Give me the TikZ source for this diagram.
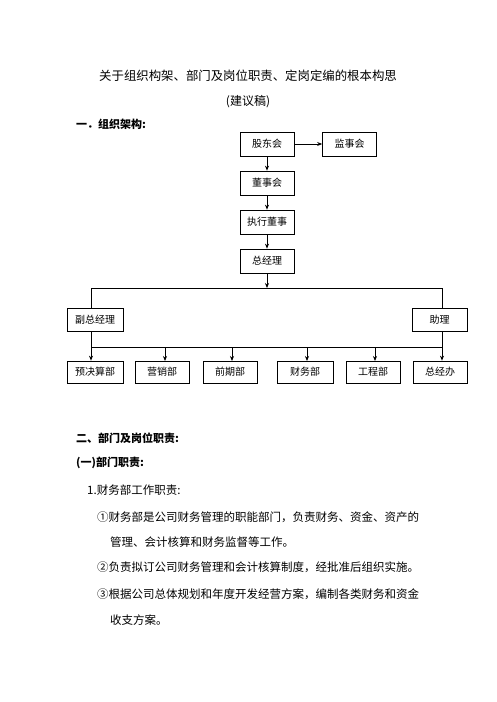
\documentclass[tikz,border=0pt]{standalone}
\usepackage{fontspec}
\setmainfont{Noto Sans CJK SC}
\usetikzlibrary{positioning,arrows.meta}

\tikzset{
  orgbox/.style={draw, line width=0.7pt, minimum width=54pt, minimum height=24pt, inner sep=0pt, font=\fontsize{10}{12}\selectfont},
  arr/.style={line width=0.8pt, -{Stealth[length=5pt,width=4pt]}},
  bus/.style={line width=0.7pt},
  body/.style={anchor=west, inner sep=0pt, font=\fontsize{11.5}{14}\selectfont},
  head/.style={anchor=west, inner sep=0pt, font=\fontsize{11}{13}\selectfont\bfseries}
}

\begin{document}
\begin{tikzpicture}[x=1pt,y=-1pt]
\useasboundingbox[fill=white] (0,0) rectangle (496,702);

% title
\node[inner sep=0pt, font=\fontsize{12.4}{15}\selectfont] (title) at (248,76) {关于组织构架、部门及岗位职责、定岗定编的根本构思};
\node[inner sep=0pt, font=\fontsize{12}{15}\selectfont] (draft) at (248,102) {(建议稿)};
\node[head] (h1) at (76,124) {一．组织架构:};

% top chain
\node[orgbox] (gdh) at (267,144) {股东会};
\node[orgbox] (jsh) at (349.5,144) {监事会};
\node[orgbox] (dsh) at (267,183) {董事会};
\node[orgbox] (zxds) at (267,222) {执行董事};
\node[orgbox] (zjl) at (267,261) {总经理};

\draw[arr] (gdh) -- (jsh);
\draw[arr] (gdh) -- (dsh);
\draw[arr] (dsh) -- (zxds);
\draw[arr] (zxds) -- (zjl);

% second level
\coordinate (busL) at (91,288);
\coordinate (busR) at (442,288);
\coordinate (busM) at (267,288);
\node[orgbox, minimum width=56pt, minimum height=23pt] (fzjl) at (95,319.5) {副总经理};
\node[orgbox, minimum width=55pt, minimum height=23pt] (zl) at (439.5,319.5) {助理};

\draw[arr] (zjl) -- (busM);
\draw[bus] (busL) -- (busR);
\draw[bus] (busL) -- (busL |- fzjl.north);
\draw[bus] (busR) -- (busR |- zl.north);

% departments
\coordinate (barL) at (91,347);
\coordinate (barR) at (442,347);
\node[orgbox, minimum width=56pt, minimum height=22pt] (yjs) at (95,372) {预决算部};
\node[orgbox, minimum height=22pt] (yx) at (162,372) {营销部};
\node[orgbox, minimum height=22pt] (qq) at (230,372) {前期部};
\node[orgbox, minimum width=56pt, minimum height=22pt] (cw) at (305,372) {财务部};
\node[orgbox, minimum height=22pt] (gc) at (373,372) {工程部};
\node[orgbox, minimum height=22pt] (zjb) at (440,372) {总经办};

\draw[bus] (barL) -- (barR);
\draw[arr] (busL |- fzjl.south) -- (busL |- yjs.north);
\draw[arr] (busR |- zl.south) -- (busR |- zjb.north);
\foreach \d/\dx in {yx/165,qq/232,cw/307,gc/375}
  \draw[arr] (\dx,347) -- (\dx,361);

% text
\node[head] (h2) at (76,438) {二、部门及岗位职责:};
\node[head] (h3) at (76,463) {(一)部门职责:};
\node[body] (t1) at (87,490) {1.财务部工作职责:};
\node[body] (t2) at (97,517) {①财务部是公司财务管理的职能部门，负责财务、资金、资产的};
\node[body] (t3) at (110,542) {管理、会计核算和财务监督等工作。};
\node[body] (t4) at (97,567) {②负责拟订公司财务管理和会计核算制度，经批准后组织实施。};
\node[body] (t5) at (97,594) {③根据公司总体规划和年度开发经营方案，编制各类财务和资金};
\node[body] (t6) at (110,620) {收支方案。};

\end{tikzpicture}
\end{document}
